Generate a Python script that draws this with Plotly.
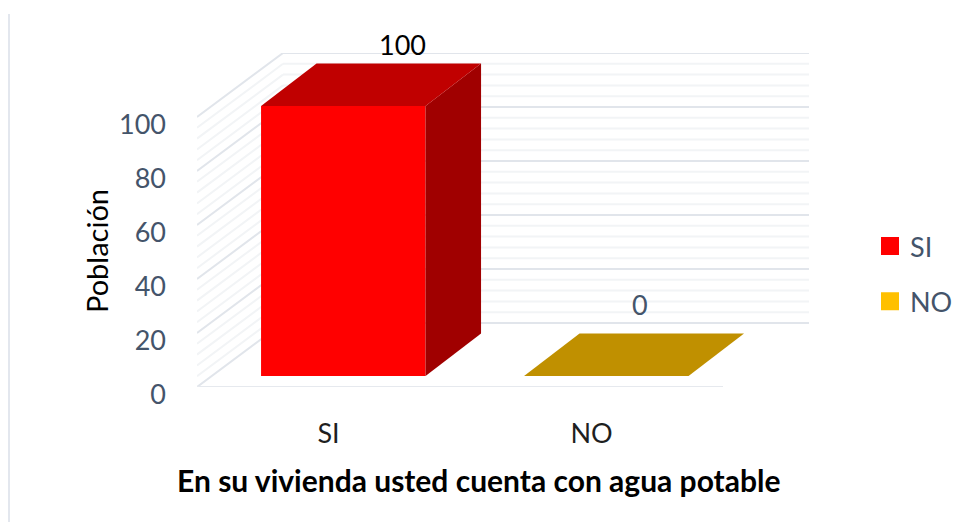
"""Water access in dwellings: faux-3D column chart, oblique projection on 2D axes."""

import plotly.graph_objects as go

# data
CATEGORIES = ["SI", "NO"]
VALUES = [100, 0]
MAJOR_TICKS = [0, 20, 40, 60, 80, 100]
MINOR_TICKS = [v for v in range(0, 100, 4) if v % 20 != 0]

FRONT_COLORS = ["#FF0000", "#FFC000"]
TOP_COLORS = ["#C00000", "#C09000"]
SIDE_COLORS = ["#A00000", "#A07800"]

SLATE = "#44546A"
FONT = "Lato"

# the page's default body margin pushes the figure by this much;
# the figure is a little wider than the window so the legend does not squeeze the plot
PAGE_MARGIN = 8
W, H = 985, 522 - PAGE_MARGIN

# plot frame, in figure pixels
LEFT, RIGHT = 197 - PAGE_MARGIN, 809 - PAGE_MARGIN
TOP, BOTTOM = 53 - PAGE_MARGIN, 387 - PAGE_MARGIN
PX_PER_CAT = 263
PX_PER_VAL = 2.7

# oblique depth of the walls and of the columns, in axis units
WALL_DX, WALL_DY = 86 / PX_PER_CAT, 64 / PX_PER_VAL
START_DX, START_DY = 14.8 / PX_PER_CAT, 11 / PX_PER_VAL
BAR_DX, BAR_DY = 55.5 / PX_PER_CAT, 42.5 / PX_PER_VAL
BAR_WIDTH = 164.5 / PX_PER_CAT

LABEL_SHIFTS = [(31, 40), (6, 50)]


def paper_x(px):
    return (px - PAGE_MARGIN - LEFT) / (RIGHT - LEFT)


def paper_y(px):
    return (BOTTOM - (px - PAGE_MARGIN)) / (BOTTOM - TOP)


def grid_line(x0, y0, x1, y1, color, width=1.5):
    return dict(type="line", layer="below", xref="x", yref="y",
                x0=x0, y0=y0, x1=x1, y1=y1, line=dict(color=color, width=width))


def face(xs, ys, color):
    return go.Scatter(x=xs + xs[:1], y=ys + ys[:1], mode="lines", fill="toself",
                      fillcolor=color, line=dict(width=0, color=color),
                      hoverinfo="skip", showlegend=False)


x_positions = [i + 0.5 for i in range(len(CATEGORIES))]
n_cats = len(CATEGORIES)

shapes = []
for ticks, color, width in ((MINOR_TICKS, "#F2F4F6", 2), (MAJOR_TICKS, "#E1E5EB", 2)):
    for v in ticks:
        # back wall, then side wall
        shapes.append(grid_line(WALL_DX, v + WALL_DY, n_cats + WALL_DX, v + WALL_DY, color, width))
        shapes.append(grid_line(0, v, WALL_DX, v + WALL_DY, color, width))
shapes.append(grid_line(0, 0, n_cats, 0, "#E6E9EE", 2))

# thin vertical rule at the page's left side
shapes.append(dict(type="line", xref="paper", yref="paper",
                   x0=paper_x(9), x1=paper_x(9), y0=paper_y(14), y1=paper_y(522),
                   line=dict(color="#E3E7EE", width=2)))

fig = go.Figure()

for i, cat in enumerate(CATEGORIES):
    x0 = x_positions[i] + START_DX - BAR_WIDTH / 2
    x1 = x0 + BAR_WIDTH
    y0 = START_DY
    y1 = START_DY + VALUES[i]
    fig.add_trace(go.Bar(x=[x_positions[i] + START_DX], y=[VALUES[i]], base=[START_DY],
                         width=[BAR_WIDTH], marker=dict(color=FRONT_COLORS[i], line=dict(width=0)),
                         showlegend=False, hoverinfo="skip"))
    if VALUES[i] > 0:
        fig.add_trace(face([x1, x1 + BAR_DX, x1 + BAR_DX, x1],
                           [y0, y0 + BAR_DY, y1 + BAR_DY, y1], SIDE_COLORS[i]))
    fig.add_trace(face([x0, x1, x1 + BAR_DX, x0 + BAR_DX],
                       [y1, y1, y1 + BAR_DY, y1 + BAR_DY], TOP_COLORS[i]))

# legend entries
for i, cat in enumerate(CATEGORIES):
    fig.add_trace(go.Scatter(x=[None], y=[None], mode="markers", name=cat, legendgroup=cat,
                             marker=dict(symbol="square", size=16, color=FRONT_COLORS[i],
                                         line=dict(color=FRONT_COLORS[i], width=2))))

annotations = []
for i, v in enumerate(VALUES):
    annotations.append(dict(
        x=x_positions[i] + START_DX + BAR_DX / 2, y=START_DY + v + BAR_DY / 2,
        text=str(v), showarrow=False, xshift=LABEL_SHIFTS[i][0], yshift=LABEL_SHIFTS[i][1],
        font=dict(family=FONT, size=27, color="#000000" if v else SLATE),
    ))
annotations.append(dict(
    xref="paper", yref="paper", x=paper_x(478), y=paper_y(480), xanchor="center", yanchor="middle",
    text="<b>En su vivienda usted cuenta con agua potable</b>", showarrow=False,
    font=dict(family=FONT, size=30, color="#000000"),
))
annotations.append(dict(
    xref="paper", yref="paper", x=paper_x(96), y=paper_y(251), xanchor="center", yanchor="middle",
    text="Población", textangle=-90, showarrow=False,
    font=dict(family=FONT, size=29, color="#000000"),
))

fig.update_layout(
    width=W, height=H,
    margin=dict(l=LEFT, r=W - RIGHT, t=TOP, b=H - BOTTOM),
    paper_bgcolor="white", plot_bgcolor="white",
    barmode="overlay",
    shapes=shapes, annotations=annotations,
    font=dict(family=FONT),
    legend=dict(x=paper_x(870), y=paper_y(222), xanchor="left", yanchor="top",
                tracegroupgap=17, itemwidth=30,
                font=dict(family=FONT, size=27, color=SLATE), bgcolor="rgba(0,0,0,0)"),
    xaxis=dict(range=[0, (RIGHT - LEFT) / PX_PER_CAT], tickmode="array", tickvals=x_positions,
               ticktext=CATEGORIES, showgrid=False, zeroline=False, showline=False, ticks="",
               ticklabelstandoff=28, ticklabelshift=0,
               tickfont=dict(family=FONT, size=27, color="#1F1F1F")),
    yaxis=dict(range=[0, (BOTTOM - TOP) / PX_PER_VAL], tickmode="array", tickvals=MAJOR_TICKS,
               showgrid=False, zeroline=False, showline=False, ticks="",
               ticklabelstandoff=30, ticklabelshift=8,
               tickfont=dict(family=FONT, size=27, color=SLATE)),
)

fig.write_html("out.html")
